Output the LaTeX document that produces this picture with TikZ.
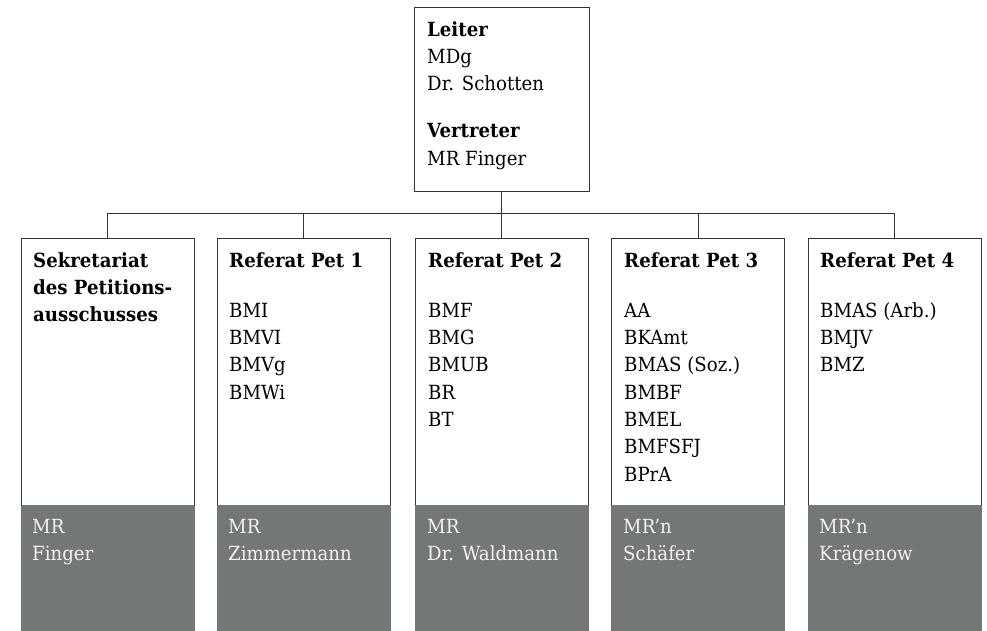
\documentclass[tikz,border=0pt]{standalone}
\usepackage{fontspec}
\setmainfont{DejaVu Serif}[FakeStretch=0.93]
\definecolor{boxgray}{HTML}{737776}
\definecolor{lighttext}{HTML}{F2F2F2}
\definecolor{linec}{HTML}{333333}
\begin{document}
\begin{tikzpicture}[x=1pt,y=-1pt,
  txt/.style={anchor=north west,inner sep=0pt,align=left,yshift=19.11pt,font=\fontsize{19.5}{27.3}\selectfont},
  unitbox/.style={draw=linec,line width=0.9pt,fill=white,minimum width=173pt,minimum height=267pt,inner sep=0pt},
  graybox/.style={fill=boxgray,minimum width=174pt,minimum height=126pt,inner sep=0pt},
  conn/.style={draw=linec,line width=0.9pt}]
\useasboundingbox (0,0) rectangle (987,631);
% top box
\node[draw=linec,line width=0.9pt,minimum width=175pt,minimum height=184pt,inner sep=0pt] (top) at (501.5,99) {};
\node[txt] (toptxt) at (427,36) {\strut\textbf{Leiter}\\MDg\\Dr. Schotten\\[19.7pt]\textbf{Vertreter}\\MR Finger};
% unit boxes
\foreach \n/\x in {1/107.5,2/303.5,3/501.5,4/698,5/894.5}{
  \node[unitbox] (b\n) at (\x,371.5) {};
  \node[graybox] (g\n) at (\x,568) {};
}
\coordinate (bus) at (501.5,213);
\draw[conn] (top.south) -- (bus);
\draw[conn] (b1.north) -- (b1.north |- bus) -- (b5.north |- bus) -- (b5.north);
\draw[conn] (b2.north) -- (b2.north |- bus);
\draw[conn] (b3.north) -- (b3.north |- bus);
\draw[conn] (b4.north) -- (b4.north |- bus);
% titles
\node[txt] (t1) at (33,267) {\strut\textbf{Sekretariat}\\\textbf{des Petitions-}\\\textbf{ausschusses}};
\node[txt] (t2) at (229,267) {\strut\textbf{Referat Pet 1}};
\node[txt] (t3) at (428,267) {\strut\textbf{Referat Pet 2}};
\node[txt] (t4) at (624,267) {\strut\textbf{Referat Pet 3}};
\node[txt] (t5) at (820,267) {\strut\textbf{Referat Pet 4}};
% lists
\node[txt] (l2) at (229,317) {\strut BMI\\BMVI\\BMVg\\BMWi};
\node[txt] (l3) at (428,317) {\strut BMF\\BMG\\BMUB\\BR\\BT};
\node[txt] (l4) at (624,317) {\strut AA\\BKAmt\\BMAS (Soz.)\\BMBF\\BMEL\\BMFSFJ\\BPrA};
\node[txt] (l5) at (820,317) {\strut BMAS (Arb.)\\BMJV\\BMZ};
% heads
\node[txt,text=lighttext] (h1) at (32,533) {\strut MR\\Finger};
\node[txt,text=lighttext] (h2) at (228,533) {\strut MR\\Zimmermann};
\node[txt,text=lighttext] (h3) at (427,533) {\strut MR\\Dr. Waldmann};
\node[txt,text=lighttext] (h4) at (623,533) {\strut MR’n\\Schäfer};
\node[txt,text=lighttext] (h5) at (819,533) {\strut MR’n\\Krägenow};
\end{tikzpicture}
\end{document}
